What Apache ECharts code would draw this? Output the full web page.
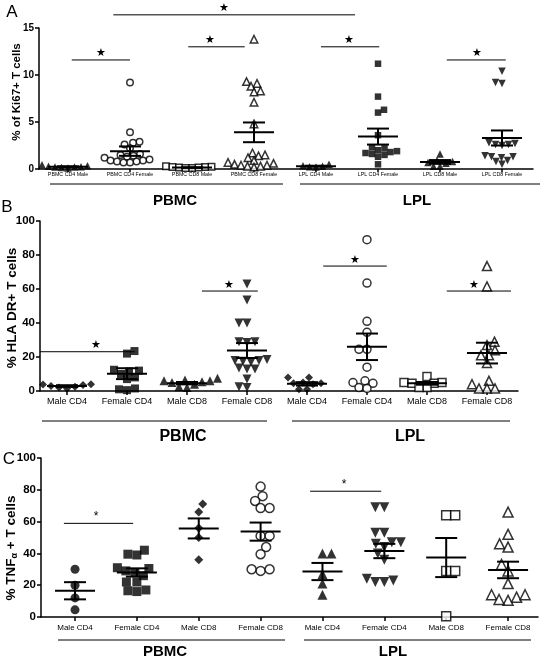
<!DOCTYPE html>
<html><head><meta charset="utf-8">
<script src="https://cdn.jsdelivr.net/npm/echarts@6/dist/echarts.min.js"></script>
<style>html,body{margin:0;padding:0;background:#fff;}#c{width:550px;height:661px;}</style>
</head><body><div id="c"></div>
<script>
// ---------- DATA ----------
const catsA = ['PBMC CD4 Male','PBMC CD4 Female','PBMC CD8 Male','PBMC CD8 Female','LPL CD4 Male','LPL CD4 Female','LPL CD8 Male','LPL CD8 Female'];
const catsBC = ['Male CD4','Female CD4','Male CD8','Female CD8','Male CD4','Female CD4','Male CD8','Female CD8'];

const ki67Ticks = [0, 5, 10, 15];
const ki67Values = [
  [0.45, 0.35, 0.3, 0.25, 0.2, 0.2, 0.15, 0.1],
  [9.2, 3.9, 2.9, 2.8, 2.6, 2.2, 1.6, 1.5, 1.4, 1.3, 1.2, 1.0, 0.9, 0.9, 0.8, 0.8, 0.7, 0.7],
  [0.3, 0.25, 0.2, 0.2, 0.15, 0.15, 0.1, 0.1],
  [13.8, 9.3, 9.1, 8.8, 8.3, 8.2, 7.1, 4.8, 1.7, 1.5, 1.4, 1.2, 0.9, 0.7, 0.6, 0.5, 0.4, 0.4, 0.3, 0.2, 0.3],
  [0.5, 0.35, 0.3, 0.25, 0.2],
  [11.2, 7.7, 6.3, 6.0, 3.6, 2.3, 2.2, 2.0, 1.9, 1.8, 1.7, 1.6, 1.5, 1.3, 0.5],
  [1.6, 0.9, 0.8, 0.7, 0.6, 0.3, 0.3],
  [10.4, 9.2, 9.1, 2.8, 2.7, 2.6, 2.6, 2.5, 1.4, 1.3, 1.3, 1.2, 0.9, 0.8, 0.5]
];
const ki67Mean = [0.25, 1.9, 0.15, 3.9, 0.3, 3.45, 0.75, 3.3];
const ki67Sem  = [0.04, 0.5, 0.03, 1.05, 0.05, 0.85, 0.2, 0.8];
const ki67Sig = [ // [from, to, y, star position]
  [0.06, 1.0, 11.6, 0.53],
  [1.94, 2.85, 13.0, 2.29],
  [0.73, 4.63, 16.4, 2.52],
  [4.08, 5.02, 13.0, 4.53],
  [6.11, 7.06, 11.6, 6.6]
];

const hladrTicks = [0, 20, 40, 60, 80, 100];
const hladrValues = [
  [4.5, 4, 3.8, 3.5, 3, 2.5, 2, 1.5],
  [23.5, 22, 12.5, 12, 11.5, 10, 8, 7, 1.5, 0.5, 1],
  [7.5, 6.5, 6, 6, 5.5, 5, 4, 2.5, 2],
  [63, 53.5, 40, 40, 29, 29, 28.5, 18.5, 18, 18, 17.5, 17, 13.5, 13, 13, 7, 2.5, 2],
  [8, 8, 5, 4.5, 4.5, 4, 1, 1],
  [89, 63.5, 41, 34.5, 24.5, 24.5, 14, 6, 5, 4.5, 2, 1.5],
  [8.5, 5, 5, 4.5, 4.5, 2, 2],
  [73.5, 61.5, 29, 27, 24, 21, 21, 16.5, 6, 4, 1.5, 1.5, 1.5]
];
const hladrMean = [2.9, 10.2, 4.6, 23.8, 4.2, 26, 4.5, 22.3];
const hladrSem  = [0.5, 3.2, 0.7, 4.4, 1.0, 7.8, 0.8, 6.1];
const hladrSig = [
  [-0.45, 1.13, 23.1, 0.48],
  [2.25, 3.18, 58.8, 2.7],
  [4.27, 5.33, 73.5, 4.8],
  [6.33, 7.4, 58.8, 6.78]
];

const tnfTicks = [0, 20, 40, 60, 80, 100];
const tnfValues = [
  [30, 20, 12, 4.5],
  [42, 39.5, 39, 31, 30.5, 29, 28, 26, 22, 22, 17, 16, 16.5],
  [71, 66, 56, 50, 36],
  [82, 76, 73, 68.5, 68.5, 51, 51, 44, 39.5, 30, 29, 30],
  [40, 40, 27, 21, 14],
  [69, 69, 53, 53, 47, 47, 46, 44, 40, 36, 23, 22, 22, 24],
  [64, 64, 29, 29, 0.5],
  [66, 52, 46, 44, 33, 29, 21, 14, 12.5, 10.5, 11, 14]
];
const tnfMean = [16.5, 28, 55.7, 53.7, 28.6, 41.5, 37.4, 29.6];
const tnfSem  = [5.4, 2.6, 6.3, 5.7, 5.4, 4.5, 12.3, 5.2];
const tnfSig = [
  [-0.18, 0.94, 58.9, 0.34],
  [3.8, 4.95, 79.1, 4.35]
];

// ---------- STYLE ----------
const FONT = 'Liberation Sans, Arial, sans-serif';
const mk = (symbol, open, rot) => ({symbol, open, rot: rot || 0});
const markersA = [mk('triangle',0), mk('circle',1), mk('rect',1), mk('triangle',1), mk('triangle',0), mk('rect',0), mk('triangle',0), mk('triangle',0,180)];
const markersB = [mk('diamond',0), mk('rect',0), mk('triangle',0), mk('triangle',0,180), mk('diamond',0), mk('circle',1), mk('rect',1), mk('triangle',1)];
const markersC = [mk('circle',0), mk('rect',0), mk('diamond',0), mk('circle',1), mk('triangle',0), mk('triangle',0,180), mk('rect',1), mk('triangle',1)];

const panels = [
  {values: ki67Values, mean: ki67Mean, sem: ki67Sem, sig: ki67Sig, ticks: ki67Ticks, cats: catsA, markers: markersA,
   grid: {left: 39, top: 28, width: 494, height: 141}, xmin: -0.468, xmax: 7.5, size: 6.5, star: '★', starSize: 11,
   name: '% of Ki67+ T cells', nameSize: 11.5, namePos: [17, 92], labelSize: 5.3, labelMargin: 3, tickLen: 3, yLabelSize: 10, yMargin: 5},
  {values: hladrValues, mean: hladrMean, sem: hladrSem, sig: hladrSig, ticks: hladrTicks, cats: catsBC, markers: markersB,
   grid: {left: 40, top: 221, width: 478, height: 170}, xmin: -0.45, xmax: 7.517, size: 8, star: '★', starSize: 11,
   name: '% HLA DR+ T cells', nameSize: 13.5, namePos: [12, 308], labelSize: 9, labelMargin: 6, tickLen: 4, yLabelSize: 11.5, yMargin: 5},
  {values: tnfValues, mean: tnfMean, sem: tnfSem, sig: tnfSig, ticks: tnfTicks, cats: catsBC, markers: markersC,
   grid: {left: 41, top: 458, width: 497, height: 159}, xmin: -0.55, xmax: 7.484, size: 9, star: '*', starSize: 12,
   name: '% TNF{a|α} + T cells', nameSize: 13.5, namePos: [11, 548], labelSize: 8, labelMargin: 7, tickLen: 4, yLabelSize: 11.5, yMargin: 5}
];

const chart = echarts.init(document.getElementById('c'), null, {renderer: 'canvas'});

function meanRender(params, api) {
  const x = api.value(0), m = api.value(1), s = api.value(2);
  const c = api.coord([x, m]), t = api.coord([x, m + s]), b = api.coord([x, m - s]);
  const W = 20, C = 11, st = {stroke: '#000', lineWidth: 2};
  return {type: 'group', children: [
    {type: 'line', shape: {x1: c[0] - W, y1: c[1], x2: c[0] + W, y2: c[1]}, style: st},
    {type: 'line', shape: {x1: t[0], y1: t[1], x2: b[0], y2: b[1]}, style: st},
    {type: 'line', shape: {x1: t[0] - C, y1: t[1], x2: t[0] + C, y2: t[1]}, style: st},
    {type: 'line', shape: {x1: b[0] - C, y1: b[1], x2: b[0] + C, y2: b[1]}, style: st}
  ]};
}
function sigRenderFactory(p) {
  return function (params, api) {
    const a = api.coord([api.value(0), api.value(2)]);
    const b = api.coord([api.value(1), api.value(2)]);
    const s = api.coord([api.value(3), api.value(2)]);
    return {type: 'group', children: [
      {type: 'line', shape: {x1: a[0], y1: a[1], x2: b[0], y2: b[1]}, style: {stroke: '#000', lineWidth: 1}},
      {type: 'text', x: s[0], y: s[1] - 1, style: {text: p.star, fill: '#000', font: p.starSize + 'px ' + FONT, align: 'center', verticalAlign: 'bottom'}}
    ]};
  };
}

function buildOption(jit) {
  const grids = [], xAxes = [], yAxes = [], series = [];
  panels.forEach((p, gi) => {
    grids.push(Object.assign({containLabel: false, outerBoundsMode: 'none'}, p.grid));
    const idx = p.cats.map((c, i) => i);
    xAxes.push({type: 'value', gridIndex: gi, min: p.xmin, max: p.xmax,
      axisLine: {show: true, onZero: false, lineStyle: {color: '#000', width: 1.5}},
      axisTick: {show: true, customValues: idx, length: p.tickLen, lineStyle: {color: '#000', width: 1.5}},
      axisLabel: {show: true, customValues: idx, margin: p.labelMargin, color: '#000', fontSize: p.labelSize, fontFamily: FONT,
        formatter: v => p.cats[Math.round(v)]},
      splitLine: {show: false}});
    const t = p.ticks;
    yAxes.push({type: 'value', gridIndex: gi, min: t[0], max: t[t.length - 1], interval: t[1] - t[0],
      axisLine: {show: true, onZero: false, lineStyle: {color: '#000', width: 1.5}},
      axisTick: {show: true, length: 4, lineStyle: {color: '#000', width: 1.5}},
      axisLabel: {color: '#000', fontWeight: 'bold', fontSize: p.yLabelSize, fontFamily: FONT, margin: p.yMargin},
      splitLine: {show: false}});
    p.values.forEach((vals, i) => {
      const m = p.markers[i];
      series.push({type: 'scatter', xAxisIndex: gi, yAxisIndex: gi, symbol: m.symbol, symbolRotate: m.rot,
        symbolSize: m.symbol === 'triangle' ? p.size + 1 : p.size,
        itemStyle: m.open ? {color: '#fff', borderColor: '#000', borderWidth: 1.5} : {color: '#000', borderWidth: 0},
        z: 2, silent: true,
        data: jit ? jit[gi][i] : vals.map(v => [i, v])});
    });
    series.push({type: 'custom', xAxisIndex: gi, yAxisIndex: gi, renderItem: meanRender, z: 5, silent: true,
      encode: {x: 0, y: [1]}, data: p.mean.map((m, i) => [i, m, p.sem[i]])});
    series.push({type: 'custom', xAxisIndex: gi, yAxisIndex: gi, renderItem: sigRenderFactory(p), clip: false, z: 5, silent: true,
      encode: {x: [0, 1, 3], y: [2]}, data: p.sig});
  });
  const L = (x1, y1, x2, y2) => ({type: 'line', shape: {x1, y1, x2, y2}, style: {stroke: '#000', lineWidth: 1}, silent: true});
  const T = (text, x, y, size, weight) => ({type: 'text', x, y, silent: true,
    style: {text, fill: '#000', font: (weight || 'bold') + ' ' + size + 'px ' + FONT, align: 'center', verticalAlign: 'middle'}});
  const graphic = [
    T('A', 12, 12, 17, 'normal'), T('B', 7, 207, 17, 'normal'), T('C', 9, 459, 17, 'normal'),
    L(50, 184, 283, 184), L(300, 184, 540, 184), T('PBMC', 175, 201, 15), T('LPL', 417, 201, 15),
    L(42, 421, 267, 421), L(292, 421, 510, 421), T('PBMC', 183, 437, 16), T('LPL', 410, 437, 16),
    L(58, 640, 285, 640), L(304, 640, 531, 640), T('PBMC', 165, 652, 15), T('LPL', 393, 652, 15)
  ];
  panels.forEach(p => {
    graphic.push({type: 'text', x: p.namePos[0], y: p.namePos[1], rotation: Math.PI / 2, silent: true,
      style: {text: p.name, fill: '#000', font: 'bold ' + p.nameSize + 'px ' + FONT, align: 'center', verticalAlign: 'middle',
        rich: {a: {fill: '#000', font: 'bold 9px ' + FONT, padding: [7, 0, 0, 0]}}}});
  });
  return {animation: false, backgroundColor: '#fff', grid: grids, xAxis: xAxes, yAxis: yAxes, series, graphic};
}

chart.setOption(buildOption(null));

// beeswarm layout of points, computed in pixels
function swarm(gi, p) {
  const p0 = chart.convertToPixel({gridIndex: gi}, [0, 0]);
  const p1 = chart.convertToPixel({gridIndex: gi}, [1, 0]);
  const ppu = p1[0] - p0[0];
  const D = p.size * 0.98;
  return p.values.map((arr, i) => {
    const pts = arr.map(v => ({v, y: chart.convertToPixel({gridIndex: gi}, [i, v])[1], dx: 0}));
    const order = pts.map((q, k) => k).sort((a, b) => pts[b].y - pts[a].y);
    const placed = [];
    order.forEach((k, n) => {
      const y = pts[k].y;
      const sgn = n % 2 ? -1 : 1;
      let best = 0;
      for (let d = 0; d < 100; d += 0.5) {
        const cands = d === 0 ? [0] : [sgn * d, -sgn * d];
        let found = null;
        for (const c of cands) {
          if (placed.every(q => (q.x - c) * (q.x - c) + (q.y - y) * (q.y - y) >= D * D)) { found = c; break; }
        }
        if (found !== null) { best = found; break; }
      }
      placed.push({x: best, y});
      pts[k].dx = best;
    });
    return pts.map(q => [i + q.dx / ppu, q.v]);
  });
}
const jit = panels.map((p, gi) => swarm(gi, p));
chart.setOption(buildOption(jit), {notMerge: true});
</script>
</body></html>
